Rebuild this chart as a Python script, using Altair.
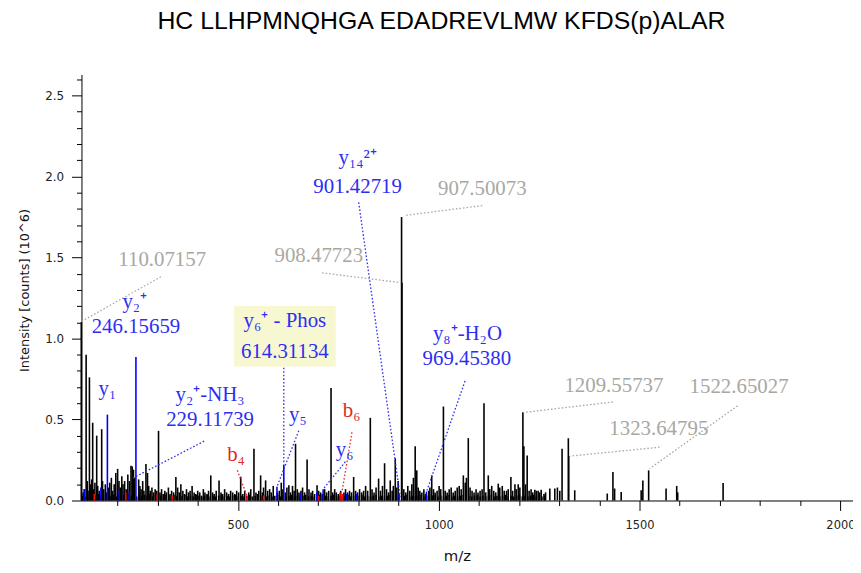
import altair as alt
import pandas as pd

TITLE = "HC LLHPMNQHGA EDADREVLMW KFDS(p)ALAR"

# tall / medium unassigned peaks (m/z, intensity in 10^6 counts)
main_peaks = [
    (110.07, 1.10), (122.2, 0.90), (130.4, 0.76), (138.5, 0.48), (148.5, 0.40), (160.9, 0.44),
    (200.6, 0.195), (233.9, 0.215), (271.1, 0.225), (302.4, 0.43), (345.6, 0.145),
    (432.5, 0.155), (453.1, 0.124), (507.0, 0.147), (540.0, 0.32), (556.6, 0.155), (569.0, 0.124),
    (626.9, 0.094), (643.5, 0.35), (672.3, 0.253), (697.1, 0.094), (731.9, 0.695), (788.2, 0.145),
    (829.7, 0.51), (850.3, 0.135), (865.2, 0.23), (879.3, 0.124), (891.8, 0.26), (907.50, 1.75),
    (908.48, 1.345), (941.4, 0.335), (945.4, 0.186), (982.6, 0.155), (1011.7, 0.58), (1061.3, 0.155),
    (1073.6, 0.385), (1112.7, 0.60), (1123.4, 0.155), (1148.2, 0.104), (1158.2, 0.09), (1168.8, 0.06),
    (1179.7, 0.145), (1189.7, 0.10), (1197.9, 0.10), (1209.56, 0.545), (1212.0, 0.335), (1220.2, 0.278),
    (1239.3, 0.067), (1247.5, 0.06), (1255.0, 0.067), (1276.6, 0.074), (1289.0, 0.074), (1295.5, 0.08),
    (1301.4, 0.06), (1307.1, 0.32), (1322.7, 0.384), (1323.65, 0.275), (1338.6, 0.063), (1419.6, 0.043),
    (1433.7, 0.176), (1437.9, 0.074), (1454.3, 0.053), (1504.0, 0.063), (1508.2, 0.124), (1522.65, 0.186),
    (1566.0, 0.074), (1592.5, 0.09), (1595.0, 0.05), (1708.0, 0.108),
]

# small peaks
grass_peaks = [
    (115, 0.05), (118, 0.07), (125, 0.12), (127, 0.06), (133, 0.10), (136, 0.13), (141, 0.07), (144, 0.11),
    (151, 0.09), (155, 0.06), (163, 0.12), (166, 0.07), (170, 0.10), (173, 0.05), (178, 0.08), (181, 0.11),
    (185, 0.14), (188, 0.06), (192, 0.10), (196, 0.17), (204, 0.12), (207, 0.08), (211, 0.15), (214, 0.10),
    (218, 0.12), (222, 0.07), (226, 0.16), (230, 0.12), (237, 0.21), (240, 0.19), (243, 0.14), (253, 0.13),
    (256, 0.09), (259, 0.07), (263, 0.12), (266, 0.06), (275, 0.17), (278, 0.09), (282, 0.06), (286, 0.08),
    (290, 0.05), (294, 0.07), (298, 0.06), (306, 0.05), (310, 0.07), (314, 0.04), (318, 0.06), (322, 0.05),
    (327, 0.08), (331, 0.04), (335, 0.06), (340, 0.05), (350, 0.08), (354, 0.05), (358, 0.10), (363, 0.06),
    (367, 0.04), (372, 0.07), (377, 0.05), (381, 0.06), (386, 0.09), (391, 0.05), (395, 0.04), (400, 0.06),
    (405, 0.05), (409, 0.03), (414, 0.07), (418, 0.05), (423, 0.04), (427, 0.06), (437, 0.05), (441, 0.04),
    (446, 0.06), (458, 0.05), (462, 0.04), (467, 0.07), (472, 0.05), (477, 0.04), (482, 0.06), (487, 0.05),
    (492, 0.04), (497, 0.06), (502, 0.05), (512, 0.04), (517, 0.06), (527, 0.05), (532, 0.07), (545, 0.05),
    (549, 0.04), (552, 0.06), (561, 0.05), (564, 0.08), (574, 0.06), (579, 0.07), (583, 0.05), (588, 0.09),
    (598, 0.05), (603, 0.06), (608, 0.11), (612, 0.07), (618, 0.05), (622, 0.08), (631, 0.05), (636, 0.09),
    (640, 0.06), (648, 0.07), (652, 0.05), (657, 0.06), (661, 0.08), (666, 0.05), (677, 0.07), (682, 0.05),
    (686, 0.06), (691, 0.04), (701, 0.06), (706, 0.05), (710, 0.04), (716, 0.07), (721, 0.05), (726, 0.06),
    (736, 0.05), (741, 0.07), (745, 0.05), (750, 0.04), (756, 0.06), (764, 0.05), (768, 0.07), (773, 0.05),
    (778, 0.06), (783, 0.05), (793, 0.06), (798, 0.05), (803, 0.07), (808, 0.05), (813, 0.06), (818, 0.09),
    (823, 0.06), (834, 0.07), (839, 0.05), (844, 0.08), (855, 0.06), (860, 0.09), (870, 0.07), (875, 0.05),
    (884, 0.06), (887, 0.09), (895, 0.08), (899, 0.12), (913, 0.07), (918, 0.05), (923, 0.09), (928, 0.06),
    (933, 0.10), (937, 0.14), (949, 0.08), (953, 0.06), (958, 0.05), (963, 0.07), (967, 0.04), (975, 0.06),
    (978, 0.08), (987, 0.07), (991, 0.05), (996, 0.06), (1001, 0.09), (1005, 0.07), (1016, 0.06), (1021, 0.05),
    (1026, 0.07), (1031, 0.08), (1036, 0.05), (1041, 0.06), (1046, 0.08), (1051, 0.09), (1056, 0.07), (1066, 0.11),
    (1069, 0.14), (1078, 0.08), (1083, 0.06), (1088, 0.05), (1093, 0.07), (1098, 0.05), (1103, 0.06), (1108, 0.07),
    (1117, 0.05), (1127, 0.07), (1132, 0.09), (1137, 0.06), (1142, 0.05), (1152, 0.08), (1163, 0.06), (1173, 0.07),
    (1184, 0.06), (1193, 0.07), (1202, 0.08), (1216, 0.10), (1225, 0.06), (1230, 0.07), (1234, 0.05), (1243, 0.06),
    (1251, 0.05), (1262, 0.04), (1266, 0.05),
]

# baseline noise
noise_peaks = [
    (113, 0.03), (119, 0.025), (126, 0.04), (132, 0.03), (139, 0.035), (146, 0.03), (152, 0.04), (158, 0.025),
    (165, 0.035), (171, 0.03), (178, 0.04), (184, 0.03), (190, 0.035), (197, 0.025), (203, 0.04), (209, 0.03),
    (216, 0.035), (223, 0.03), (229, 0.04), (235, 0.03), (242, 0.035), (248, 0.025), (255, 0.04), (261, 0.03),
    (268, 0.035), (274, 0.03), (281, 0.04), (288, 0.025), (295, 0.035), (301, 0.03), (308, 0.03), (315, 0.025),
    (321, 0.035), (328, 0.03), (334, 0.025), (341, 0.035), (348, 0.03), (355, 0.025), (361, 0.03), (368, 0.035),
    (375, 0.025), (382, 0.03), (389, 0.025), (396, 0.035), (403, 0.03), (410, 0.025), (417, 0.03), (424, 0.035),
    (431, 0.025), (438, 0.03), (445, 0.025), (452, 0.03), (459, 0.035), (466, 0.025), (473, 0.03), (480, 0.025),
    (487, 0.03), (494, 0.035), (501, 0.025), (508, 0.03), (515, 0.025), (522, 0.03), (529, 0.035), (536, 0.025),
    (543, 0.03), (550, 0.025), (557, 0.03), (564, 0.035), (571, 0.025), (578, 0.03), (585, 0.025), (592, 0.03),
    (599, 0.035), (606, 0.025), (613, 0.03), (620, 0.025), (627, 0.03), (634, 0.035), (641, 0.025), (648, 0.03),
    (655, 0.025), (662, 0.03), (669, 0.035), (676, 0.025), (683, 0.03), (690, 0.025), (697, 0.03), (704, 0.035),
    (711, 0.025), (718, 0.03), (725, 0.025), (732, 0.03), (739, 0.035), (746, 0.025), (753, 0.03), (760, 0.025),
    (767, 0.03), (774, 0.035), (781, 0.025), (788, 0.03), (795, 0.025), (802, 0.03), (809, 0.035), (816, 0.025),
    (823, 0.03), (830, 0.025), (837, 0.03), (844, 0.035), (851, 0.025), (858, 0.03), (865, 0.025), (872, 0.03),
    (879, 0.035), (886, 0.025), (893, 0.03), (900, 0.025), (914, 0.03), (921, 0.035), (928, 0.025), (935, 0.03),
    (942, 0.025), (949, 0.03), (956, 0.035), (963, 0.025), (970, 0.03), (977, 0.025), (984, 0.03), (991, 0.035),
    (998, 0.025), (1005, 0.03), (1012, 0.025), (1019, 0.03), (1026, 0.035), (1033, 0.025), (1040, 0.03),
    (1047, 0.025), (1054, 0.03), (1061, 0.035), (1068, 0.025), (1075, 0.03), (1082, 0.025), (1089, 0.03),
    (1096, 0.035), (1103, 0.025), (1110, 0.03), (1117, 0.025), (1124, 0.03), (1131, 0.035), (1138, 0.025),
    (1145, 0.03), (1152, 0.025), (1159, 0.03), (1166, 0.035), (1173, 0.025), (1180, 0.03), (1187, 0.025),
    (1194, 0.03), (1201, 0.035), (1208, 0.025), (1215, 0.03), (1222, 0.025), (1229, 0.03), (1236, 0.035),
    (1243, 0.025), (1250, 0.03), (1257, 0.025), (1264, 0.03),
]

# assigned y ions (blue) and b ions (red)
y_peaks = [
    (117.4, 0.07), (158.9, 0.08), (175.12, 0.53), (204.3, 0.06), (229.12, 0.05), (246.16, 0.885),
    (597.28, 0.085), (614.31, 0.22), (655.0, 0.04), (696.4, 0.05), (712.3, 0.07), (770.8, 0.04),
    (795.6, 0.04), (901.43, 0.04), (969.45, 0.055),
]
b_peaks = [
    (142.3, 0.04), (221.0, 0.05), (299.0, 0.04), (336.5, 0.03), (522.7, 0.03), (564.0, 0.03),
    (700.6, 0.03), (754.4, 0.05), (760.0, 0.04),
]

# annotation texts: (text, m/z anchor, intensity anchor, kind)
labels = [
    ("110.07157", 311.6, 1.483, "lg"),
    ("y₂⁺", 243.3, 1.225, "ly"),
    ("246.15659", 246.3, 1.072, "ly"),
    ("y₁", 175.0, 0.69, "ly"),
    ("y₂⁺-NH₃", 430.8, 0.65, "ly"),
    ("229.11739", 430.8, 0.496, "ly"),
    ("y₆⁺ - Phos", 617.0, 1.109, "ly"),
    ("614.31134", 617.0, 0.919, "ly"),
    ("y₅", 649.2, 0.527, "ly"),
    ("b₄", 495.3, 0.282, "lb"),
    ("y₆", 765.9, 0.312, "ly"),
    ("b₆", 783.3, 0.551, "lb"),
    ("y₁₄²⁺", 798.2, 2.114, "ly"),
    ("901.42719", 798.2, 1.936, "ly"),
    ("907.50073", 1108.5, 1.924, "lg"),
    ("908.47723", 701.4, 1.507, "lg"),
    ("y₈⁺-H₂O", 1071.5, 1.029, "ly"),
    ("969.45380", 1070.0, 0.870, "ly"),
    ("1209.55737", 1436.2, 0.705, "lg"),
    ("1323.64795", 1547.9, 0.441, "lg"),
    ("1522.65027", 1747.8, 0.699, "lg"),
]

# leader lines: (m/z start, int start, m/z end, int end, kind)
leaders = [
    (308.4, 1.381, 110.6, 1.105, "lg"),
    (415.9, 0.366, 236.0, 0.135, "ly"),
    (614.31, 0.82, 614.31, 0.22, "ly"),
    (651.7, 0.431, 597.28, 0.085, "ly"),
    (498.5, 0.186, 523.3, 0.025, "lb"),
    (767.6, 0.239, 712.3, 0.07, "ly"),
    (784.0, 0.421, 759.2, 0.053, "lb"),
    (800.7, 1.840, 904.2, 0.023, "ly"),
    (1108.5, 1.820, 914.0, 1.759, "lg"),
    (709.6, 1.405, 906.7, 1.344, "lg"),
    (1065.5, 0.737, 969.45, 0.053, "ly"),
    (1433.7, 0.608, 1210.3, 0.543, "lg"),
    (1549.7, 0.329, 1327.3, 0.274, "lg"),
    (1744.0, 0.584, 1524.8, 0.196, "lg"),
]

# highlighted label box (m/z range, intensity range)
box = [(490.3, 743.6, 0.827, 1.201)]

X_DOMAIN = [110.6, 2031.4]
Y_DOMAIN = [0, 2.629]

peaks = pd.DataFrame(
    [(m, i, "peak") for m, i in noise_peaks + grass_peaks + main_peaks]
    + [(m, i, "yion") for m, i in y_peaks]
    + [(m, i, "bion") for m, i in b_peaks],
    columns=["mz", "inten", "kind"],
)
lab_df = pd.DataFrame(labels, columns=["text", "mz", "inten", "kind"])
lead_df = pd.DataFrame(leaders, columns=["mz", "inten", "mz2", "inten2", "kind"])
box_df = pd.DataFrame(box, columns=["mz", "mz2", "inten", "inten2"])

ytest = "abs(datum.value*2 - round(datum.value*2)) < 0.001"
xtest = "datum.value % 500 === 0"
yvals = [round(0.1 * i, 1) for i in range(27)]
xvals = list(range(200, 2001, 100))

AX_FONT = "DejaVu Sans"

xaxis = alt.Axis(
    values=xvals,
    labelExpr=f"({xtest}) ? format(datum.value, 'd') : ''",
    tickSize={"condition": {"test": xtest, "value": 10}, "value": 5},
    labelFlush=False, labelOverlap=False, grid=False,
    domainColor="black", tickColor="black", labelColor="#222",
    labelFont=AX_FONT, labelFontSize=11.5, labelPadding=9,
    title="m/z", titleFont=AX_FONT, titleFontSize=15, titleFontWeight="normal",
    titleColor="#111", titleX=378, titleY=48, titleBaseline="top",
)
yaxis = alt.Axis(
    values=yvals,
    labelExpr=f"({ytest}) ? format(datum.value, '.1f') : ''",
    tickSize={"condition": {"test": ytest, "value": 10}, "value": 5},
    labelFlush=False, labelOverlap=False, grid=False,
    domainColor="black", tickColor="black", labelColor="#222",
    labelFont=AX_FONT, labelFontSize=12, labelPadding=8,
    title="Intensity [counts] (10^6)", titleFont=AX_FONT, titleFontSize=13,
    titleFontWeight="normal", titleColor="#111", titleX=-50, titleY=217,
    titleAngle=270, titleAlign="center", titleBaseline="bottom",
)

X = alt.X("mz:Q", scale=alt.Scale(domain=X_DOMAIN, nice=False, zero=False), axis=xaxis)
Y = alt.Y("inten:Q", scale=alt.Scale(domain=Y_DOMAIN, nice=False, zero=False), axis=yaxis)

color = alt.Color(
    "kind:N",
    scale=alt.Scale(
        domain=["peak", "yion", "bion", "lg", "ly", "lb"],
        range=["#000000", "#0000ff", "#ff0000", "#aaa7a3", "#2e2ef2", "#e02828"],
    ),
    legend=None,
)

box_layer = alt.Chart(box_df).mark_rect(color="#f7f7d2").encode(
    x=X, x2="mz2:Q", y=Y, y2="inten2:Q"
)
peak_layer = alt.Chart(peaks).mark_rule(strokeWidth=1.6).encode(
    x=X, y=Y, y2=alt.datum(0), color=color
)
lead_layer = alt.Chart(lead_df).mark_rule(strokeWidth=1.3, strokeDash=[1.6, 2]).encode(
    x=X, y=Y, x2="mz2:Q", y2="inten2:Q", color=color
)
text_layer = alt.Chart(lab_df).mark_text(
    font="Liberation Serif", fontSize=21, align="center", baseline="middle"
).encode(x=X, y=Y, text="text:N", color=color)

chart = (
    alt.layer(box_layer, peak_layer, lead_layer, text_layer)
    .properties(
        width=777,
        height=429,
        autosize=alt.AutoSizeParams(type="none"),
        padding={"left": 74, "top": 65, "right": 0, "bottom": 66},
        title=alt.TitleParams(
            TITLE, font="Liberation Sans", fontSize=25, fontWeight="normal", color="#000",
            anchor="middle", frame="group", offset=40, dx=-26,
        ),
    )
    .configure_view(stroke=None)
)

chart.save("out.html", embed_options={"renderer": "svg", "actions": False})
